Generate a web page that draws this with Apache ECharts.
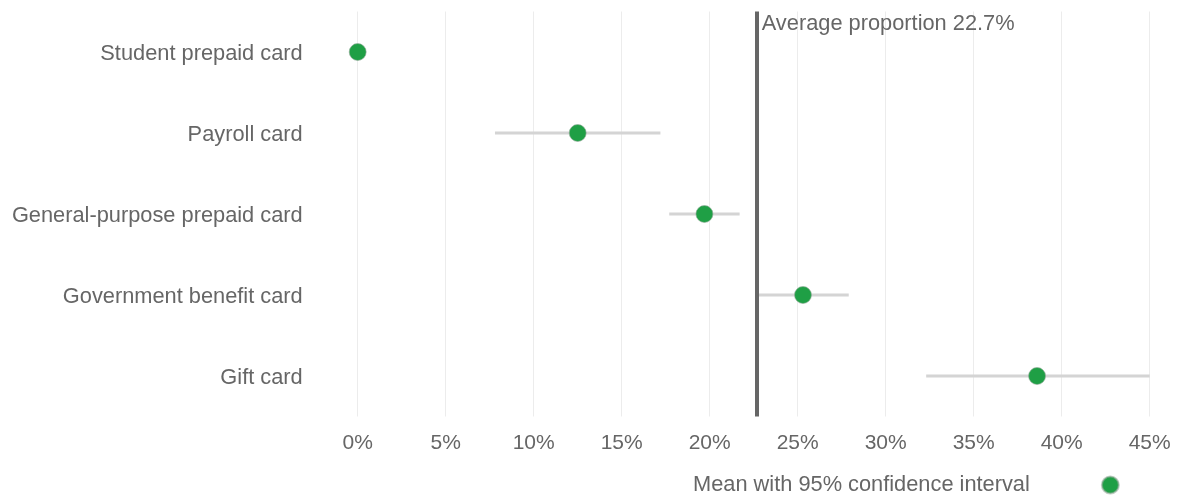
<!DOCTYPE html>
<html>
<head>
<meta charset="utf-8">
<script src="https://cdn.jsdelivr.net/npm/echarts@6/dist/echarts.min.js"></script>
<style>
  html, body { margin: 0; padding: 0; background: #fff; }
  #chart { width: 1180px; height: 497px; }
</style>
</head>
<body>
<div id="chart"></div>
<script>
// card types, top to bottom
const cardTypes = ['Student prepaid card', 'Payroll card', 'General-purpose prepaid card', 'Government benefit card', 'Gift card']
// mean proportion (%) and 95% confidence interval bounds
const means = [0, 12.5, 19.7, 25.3, 38.6]
const ciLow = [0, 7.8, 17.7, 22.8, 32.3]
const ciHigh = [0, 17.2, 21.7, 27.9, 45.0]
const averageProportion = 22.7

const TEXT = '#666'
const GREEN = '#1f9f45'
const FONT = 'Liberation Sans, Arial, sans-serif'

let myChart = echarts.init(document.getElementById('chart'))

// use the category index for y so both series share the axis
let ciData = cardTypes.map((c, i) => [ciLow[i], ciHigh[i], i])
let meanData = cardTypes.map((c, i) => [means[i], i])

myChart.setOption({
  animation: false,
  textStyle: { fontFamily: FONT },
  grid: { left: 357.7, right: 30.3, top: 11.5, bottom: 80.5 },
  xAxis: {
    type: 'value',
    min: 0,
    max: 45,
    interval: 5,
    axisLine: { show: false },
    axisTick: { show: false },
    axisLabel: { formatter: '{value}%', color: TEXT, fontSize: 21, margin: 16, fontFamily: FONT },
    splitLine: { lineStyle: { color: '#ececec', width: 1 } }
  },
  yAxis: {
    type: 'category',
    data: cardTypes,
    inverse: true,
    axisLine: { show: false },
    axisTick: { show: false },
    splitLine: { show: false },
    axisLabel: {
      color: TEXT,
      fontSize: 21.8,
      margin: 55,
      fontFamily: FONT,
      formatter: '{a|{value}}',
      rich: { a: { color: TEXT, fontSize: 21.8, fontFamily: FONT, padding: [3, 0, 0, 0] } }
    }
  },
  legend: {
    data: ['Mean with 95% confidence interval'],
    left: 688,
    top: 469,
    align: 'right',
    itemWidth: 17,
    itemHeight: 17,
    textStyle: { color: TEXT, fontSize: 21.8, fontFamily: FONT, padding: [0, 67, 0, 0] }
  },
  series: [
    {
      type: 'custom',
      name: 'ci',
      data: ciData,
      encode: { x: [0, 1], y: 2 },
      renderItem: function (params, api) {
        let a = api.coord([api.value(0), api.value(2)])
        let b = api.coord([api.value(1), api.value(2)])
        return {
          type: 'line',
          shape: { x1: a[0], y1: a[1], x2: b[0], y2: b[1] },
          style: { stroke: '#d4d4d4', lineWidth: 3 }
        }
      }
    },
    {
      type: 'scatter',
      name: 'Mean with 95% confidence interval',
      data: meanData,
      symbol: 'circle',
      symbolSize: 17,
      itemStyle: { color: GREEN, opacity: 1, borderColor: 'rgba(150,170,155,0.6)', borderWidth: 1 },
      z: 5,
      markLine: {
        silent: true,
        symbol: 'none',
        label: { show: false },
        lineStyle: { color: '#666', width: 4, type: 'solid' },
        data: [{ xAxis: averageProportion }]
      },
      markPoint: {
        silent: true,
        symbol: 'circle',
        symbolSize: 1,
        itemStyle: { color: 'rgba(0,0,0,0)' },
        label: {
          show: true,
          position: 'right',
          offset: [-1, -28],
          color: TEXT,
          fontSize: 21.8,
          fontFamily: FONT,
          formatter: 'Average proportion ' + averageProportion + '%'
        },
        data: [{ coord: [averageProportion, 0] }]
      }
    }
  ]
})
</script>
</body>
</html>
